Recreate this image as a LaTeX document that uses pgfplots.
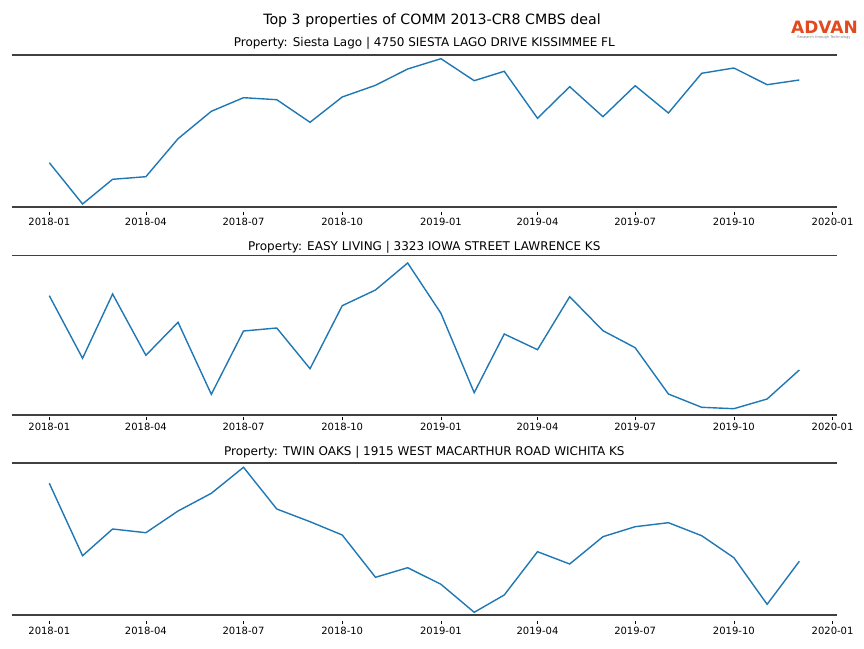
\documentclass[border=0pt]{standalone}
\usepackage{fontspec}
\setmainfont{DejaVu Sans}
\usepackage{pgfplots}
\pgfplotsset{compat=1.18}
\definecolor{mplblue}{HTML}{1F77B4}
\definecolor{spine}{HTML}{404040}
\definecolor{advan}{HTML}{E2491F}
\pgfplotsset{
  panel/.style n args={4}{
    scale only axis, width=825pt, height=#1pt,
    xmin=-34.95, xmax=733.95, ymin=0, ymax=#1,
    axis x line*=bottom, axis y line=none,
    x axis line style={draw=spine, line width=1.6pt, -},
    xtick={0,90,181,273,365,455,546,638,730},
    xticklabels={2018-01,2018-04,2018-07,2018-10,2019-01,2019-04,2019-07,2019-10,2020-01},
    major tick length=3.5pt, tick align=outside,
    xtick style={draw=black, line width=0.6pt, yshift=-#2pt},
    xticklabel style={font=\fontsize{10}{11}\selectfont, inner sep=0pt, yshift=-#3pt},
    ytick=\empty, clip=false,
    every axis title/.style={font=\fontsize{12}{14}\selectfont, at={(0.5,1)}, anchor=base, inner sep=0pt, yshift=#4pt},
  }
}
\begin{document}
\begin{tikzpicture}[x=1pt,y=1pt]
\useasboundingbox (0,0) rectangle (864,648);
\node[font=\fontsize{14.2}{16}\selectfont, anchor=base, inner sep=0pt] at (432,623) {Top 3 properties of COMM 2013-CR8 CMBS deal};
\node[font=\bfseries\fontsize{17}{18}\selectfont, text=advan, inner sep=0pt] at (824.5,620.5) {ADVAN};
\node[font=\fontsize{3.6}{4}\selectfont, text=gray, inner sep=0pt] at (824,610) {Research through Technology};

\begin{axis}[panel={152}{5}{7.8}{8}, at={(11,441)}, anchor=south west,
  title={Property: Siesta Lago | 4750 SIESTA LAGO DRIVE KISSIMMEE FL}]
\addplot[mplblue, line width=1.4pt] coordinates {
(0,44.3)(31,3)(59,27.7)(90,30.3)(120,68.3)(151,95.7)(181,109.3)(212,107.3)(243,84.7)(273,110)(304,121.7)(334,138)
(365,148.3)(396,126.3)(424,135.7)(455,88.7)(485,120.3)(516,90.3)(546,121.3)(577,94)(608,133.7)(638,139)(669,122.3)(699,127)};
\draw[spine, line width=1.6pt] (rel axis cs:0,1) -- (rel axis cs:1,1);
\end{axis}

\begin{axis}[panel={159.5}{2}{4.8}{5}, at={(11,233)}, anchor=south west,
  title={Property: EASY LIVING | 3323 IOWA STREET LAWRENCE KS}]
\addplot[mplblue, line width=1.4pt] coordinates {
(0,119.3)(31,56.7)(59,121)(90,59.7)(120,92.7)(151,20.7)(181,84)(212,87)(243,46.3)(273,109.3)(304,125)(334,152)
(365,101.7)(396,22.3)(424,81)(455,65.3)(485,118.3)(516,84.3)(546,67.3)(577,21)(608,7.7)(638,6.3)(669,16)(699,45)};
\draw[spine, line width=0.8pt] (rel axis cs:0,1) -- (rel axis cs:1,1);
\end{axis}

\begin{axis}[panel={151.5}{6}{8.5}{8}, at={(11,33.3)}, anchor=south west,
  title={Property: TWIN OAKS | 1915 WEST MACARTHUR ROAD WICHITA KS}]
\addplot[mplblue, line width=1.4pt] coordinates {
(0,131.4)(31,59)(59,85.7)(90,82)(120,103.7)(151,121.4)(181,147.4)(212,105.7)(243,93)(273,79.7)(304,37.4)(334,47)
(365,30.4)(396,2.4)(424,19.7)(455,63)(485,50.7)(516,78)(546,88)(577,92)(608,79)(638,57)(669,10.4)(699,53.4)};
\draw[spine, line width=1.6pt] (rel axis cs:0,1) -- (rel axis cs:1,1);
\end{axis}
\end{tikzpicture}
\end{document}
